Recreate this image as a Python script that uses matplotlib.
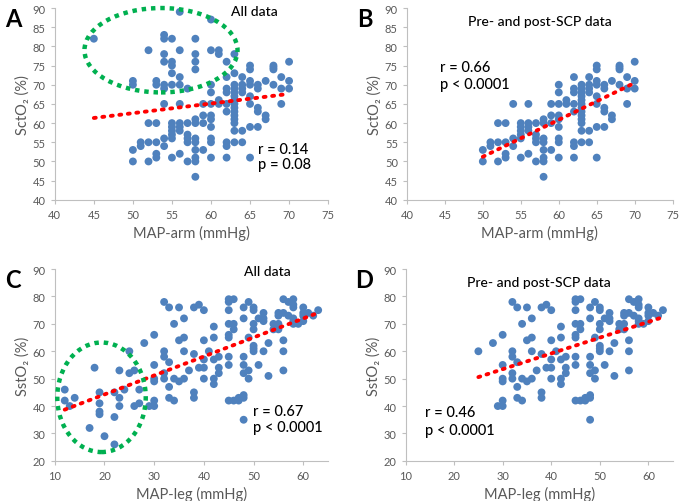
import numpy as np
import matplotlib
matplotlib.use('Agg')
import matplotlib.pyplot as plt
import matplotlib.patches as patches

plt.rcParams['font.family'] = ['Lato', 'DejaVu Sans']

# MAP-arm vs SctO2, pre- and post-SCP readings
arm_x = [50, 50, 51, 51, 52, 52, 52, 53, 53, 53, 53, 54, 54, 54,
         55, 55, 55, 55, 55, 55, 56, 56, 56, 56, 56,
         57, 57, 57, 57, 57, 58, 58, 58, 58, 58, 58, 58, 58,
         59, 59, 59, 59, 60, 60, 60, 60, 60, 60, 60, 60, 60, 61, 61,
         62, 62, 62, 62, 62, 62, 62, 62,
         63, 63, 63, 63, 63, 63, 63, 63, 63, 63, 63, 63, 63,
         64, 64, 64, 64, 64, 64, 65, 65, 65, 65, 65, 65, 65, 65,
         66, 66, 66, 66, 66, 67, 67, 67, 68, 68, 68, 68, 69, 69, 69, 70, 70, 70]
arm_y = [53, 50, 55, 54, 60, 55, 50, 60, 55, 52, 51, 65, 56, 54,
         60, 59, 58, 57, 56, 51, 65, 60, 59, 58, 52,
         60, 57, 56, 55, 50, 61, 60, 56, 55, 53, 51, 50, 46,
         65, 62, 60, 53, 70, 68, 65, 62, 61, 59, 56, 55, 51, 66, 65,
         72, 69, 68, 65, 63, 55, 54, 51,
         70, 69, 68, 67, 66, 65, 64, 63, 62, 61, 60, 58, 55,
         72, 70, 69, 68, 58, 55, 75, 74, 71, 70, 67, 65, 59, 51,
         70, 69, 64, 63, 59, 71, 62, 61, 75, 74.5, 74, 70, 72, 69, 65, 76, 71, 69]

# extra readings during SCP (circled in panel A)
arm_scp_x = [45, 50, 50, 52, 53, 53, 54, 54, 54, 54, 54, 54, 55, 55, 55, 55, 55,
             56, 56, 56, 56, 57, 58, 58, 58, 58, 60, 60, 61, 61, 62, 63, 63]
arm_scp_y = [82, 71, 70, 79, 71, 70, 83, 82, 78, 76, 70, 69, 82, 76, 75, 73, 70,
             89, 79, 72, 70, 69, 82, 78, 76, 74, 87, 79, 79, 78, 76, 78, 73]

# MAP-leg vs SstO2, pre- and post-SCP readings
leg_x = [25, 28, 29, 30, 30, 30, 30, 30, 30, 32, 32, 32, 32, 32,
         33, 33, 33, 33, 34, 34, 34, 35, 35, 35, 36, 36, 36, 36, 37,
         38, 38, 38, 38, 39, 39, 40, 40, 40, 40, 40, 41,
         42, 42, 42, 42, 42, 43, 43, 43,
         45, 45, 45, 45, 45, 45, 45, 45, 45, 46, 46, 46, 46, 47, 47,
         48, 48, 48, 48, 48, 48, 48, 48, 49, 49, 49, 49,
         50, 50, 50, 50, 50, 50, 50, 51, 51, 52, 52, 52, 52, 53, 53,
         54, 54, 55, 55, 55, 55, 56, 56, 56, 56, 56, 57, 57,
         58, 58, 58, 58, 58, 58, 59, 60, 60, 60, 60, 61, 62, 63]
leg_y = [60, 63, 40, 40, 42, 49, 50, 55, 66, 78, 60, 58, 52, 50,
         76, 56, 47, 43, 70, 50, 42, 76, 64, 49, 72, 65, 60, 50, 53,
         76, 59, 45, 43, 77, 54, 75, 64, 57, 54, 50, 60,
         69, 65, 57, 50, 48, 58, 54, 52,
         79, 78, 75, 70, 66, 65, 58, 55, 42, 79, 70, 68, 42, 43, 42,
         76, 72, 58, 55, 52, 44, 43, 35, 78, 65, 53, 50,
         76, 75, 70, 68, 62, 61, 60, 72, 55, 74, 72, 71, 60, 63, 51,
         70, 68, 74, 73, 70, 68, 79, 74, 64, 60, 53, 78, 73,
         79, 77, 76, 72, 71, 70, 70, 76, 74, 73, 71, 74, 73, 75]

# extra readings during SCP (circled in panel C)
leg_scp_x = [12, 12, 13, 14, 17, 18, 19, 19, 19, 19, 20, 22, 22, 22,
             23, 23, 23, 24, 25, 26, 26, 27, 27]
leg_scp_y = [46, 42, 40, 43, 32, 54, 45, 41, 38, 37, 29, 45, 36, 26,
             53, 43, 40, 46, 52, 53, 40, 46, 41]

panels = [
    dict(letter='A', rect=[0.080, 0.600, 0.399, 0.382],
         x=arm_x + arm_scp_x, y=arm_y + arm_scp_y,
         xlim=(40, 75), xticks=range(40, 76, 5), ylim=(40, 90), yticks=range(40, 91, 5),
         xlabel='MAP-arm (mmHg)', ylabel='SctO₂ (%)',
         title='All data', title_xy=(65.6, 89.2),
         stats=('r = 0.14', 'p = 0.08'), stats_xy=(66.0, 53.3), dy=3.9,
         ellipse=((53.6, 79.0), 19.6, 22.0)),
    dict(letter='B', rect=[0.594, 0.600, 0.388, 0.382],
         x=arm_x, y=arm_y,
         xlim=(40, 75), xticks=range(40, 76, 5), ylim=(40, 90), yticks=range(40, 91, 5),
         xlabel='MAP-arm (mmHg)', ylabel='SctO₂ (%)',
         title='Pre- and post-SCP data', title_xy=(57.5, 86.6),
         stats=('r = 0.66', 'p < 0.0001'), stats_xy=(44.4, 74.6), dy=4.4,
         ellipse=None),
    dict(letter='C', rect=[0.080, 0.080, 0.399, 0.382],
         x=leg_x + leg_scp_x, y=leg_y + leg_scp_y,
         xlim=(10, 65), xticks=range(10, 61, 10), ylim=(20, 90), yticks=range(20, 91, 10),
         xlabel='MAP-leg (mmHg)', ylabel='SstO₂ (%)',
         title='All data', title_xy=(52.7, 89.2),
         stats=('r = 0.67', 'p < 0.0001'), stats_xy=(49.8, 38.3), dy=5.9,
         ellipse=((19.4, 43.2), 17.8, 40.0)),
    dict(letter='D', rect=[0.592, 0.080, 0.390, 0.382],
         x=leg_x, y=leg_y,
         xlim=(10, 65), xticks=range(10, 61, 10), ylim=(20, 90), yticks=range(20, 91, 10),
         xlabel='MAP-leg (mmHg)', ylabel='SstO₂ (%)',
         title='Pre- and post-SCP data', title_xy=(37.4, 85.2),
         stats=('r = 0.46', 'p < 0.0001'), stats_xy=(14.1, 37.8), dy=6.6,
         ellipse=None),
]

fig = plt.figure(figsize=(6.85, 5.02), dpi=100)
grey = '#595959'

for p in panels:
    ax = fig.add_axes(p['rect'])
    x = np.array(p['x'], dtype=float)
    y = np.array(p['y'], dtype=float)
    ax.scatter(x, y, s=32, color='#4F81BD', edgecolors='none', zorder=2)

    # linear trend line, Excel style
    k, b = np.polyfit(x, y, 1)
    xs = np.linspace(x.min(), x.max(), 50)
    ax.plot(xs, k * xs + b, color='#FF0000', linestyle=(0, (0.5, 1.7)),
            linewidth=2.8, dash_capstyle='round', zorder=3)

    if p['ellipse'] is not None:
        c, w, h = p['ellipse']
        ax.add_patch(patches.Ellipse(c, w, h, fill=False, edgecolor='#00B050',
                                     linewidth=3.2, linestyle=(0, (1, 1.1)),
                                     zorder=4, clip_on=False))

    ax.set_xlim(*p['xlim'])
    ax.set_ylim(*p['ylim'])
    ax.set_xticks(list(p['xticks']))
    ax.set_yticks(list(p['yticks']))
    for side in ['top', 'right']:
        ax.spines[side].set_visible(False)
    for side in ['left', 'bottom']:
        ax.spines[side].set_color('#BFBFBF')
    ax.tick_params(colors='#BFBFBF', labelcolor=grey, labelsize=8, length=3)
    ax.set_xlabel(p['xlabel'], fontsize=10.5, color=grey, labelpad=4)
    ax.set_ylabel(p['ylabel'], fontsize=10.5, color=grey, labelpad=2)

    ax.text(*p['title_xy'], p['title'], ha='center', va='center', fontsize=10,
            color='black', fontweight='medium')
    sx, sy = p['stats_xy']
    ax.text(sx, sy, p['stats'][0], ha='left', va='center', fontsize=10.5,
            color='black', fontweight='medium')
    ax.text(sx, sy - p['dy'], p['stats'][1], ha='left', va='center', fontsize=10.5,
            color='black', fontweight='medium')

    fig.text(p['rect'][0] - 0.073, p['rect'][1] + p['rect'][3] + 0.003, p['letter'],
             fontsize=17, fontweight='bold', ha='left', va='top')

fig.savefig('out.png', dpi=100, facecolor='white')
